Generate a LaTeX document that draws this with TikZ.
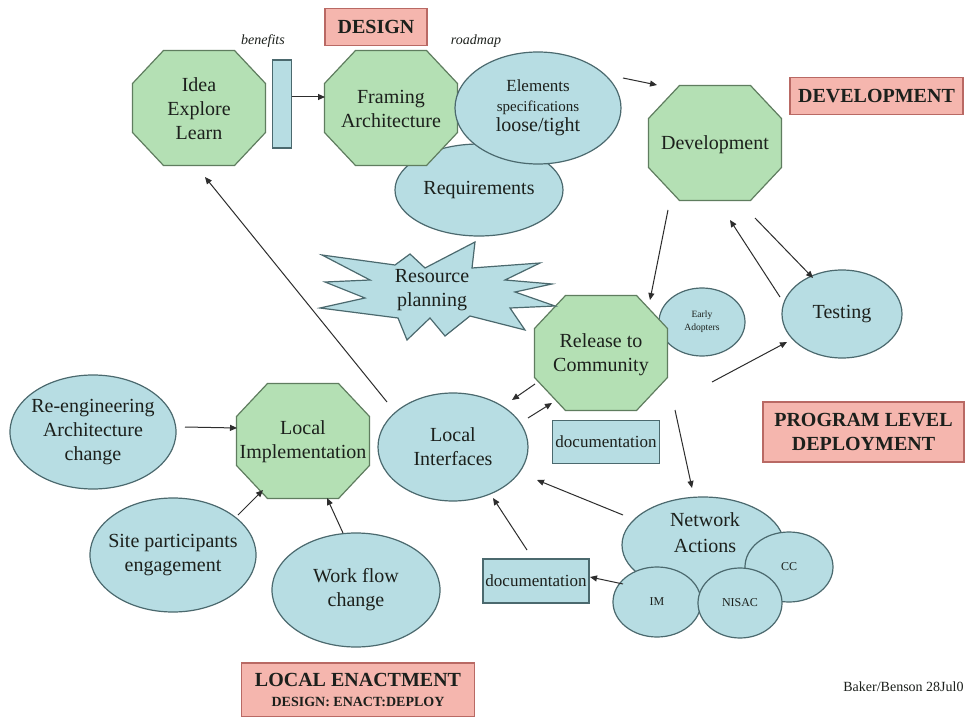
\documentclass[tikz,border=0pt]{standalone}
\usepackage{fontspec}
\setmainfont{Liberation Serif}
\usetikzlibrary{shapes.geometric,arrows.meta,calc}
\definecolor{gfill}{RGB}{180,224,180}
\definecolor{gline}{RGB}{95,125,95}
\definecolor{bfill}{RGB}{183,221,227}
\definecolor{bline}{RGB}{75,105,110}
\definecolor{pfill}{RGB}{245,182,174}
\definecolor{pline}{RGB}{185,105,100}
\definecolor{ink}{RGB}{28,32,28}
\definecolor{arrcol}{RGB}{45,45,45}
\newcommand\octshape[1]{\draw[octline,shift={(#1)}] (-66.5,-24.5) -- (-66.5,24.5) -- (-35.5,57.5) -- (35.5,57.5) -- (66.5,24.5) -- (66.5,-24.5) -- (35.5,-57.5) -- (-35.5,-57.5) -- cycle;}
\begin{document}
\begin{tikzpicture}[x=0.5pt,y=-0.5pt,
 octline/.style={fill=gfill,draw=gline,line width=0.6pt},
 octtxt/.style={inner sep=0pt,minimum width=66.5pt,minimum height=57.5pt,align=center,text=ink,font=\fontsize{10}{12}\selectfont},
 bell/.style={ellipse,fill=bfill,draw=bline,line width=0.6pt,inner sep=-10pt,align=center,text=ink,font=\fontsize{10}{12}\selectfont},
 brect/.style={rectangle,fill=bfill,draw=bline,line width=0.6pt,inner sep=0pt,align=center,text=ink,font=\fontsize{8.5}{10}\selectfont},
 hbox/.style={rectangle,fill=pfill,draw=pline,line width=0.6pt,inner sep=0pt,align=center,text=ink,font=\fontsize{10}{11.7}\selectfont\bfseries},
 arr/.style={draw=arrcol,line width=0.5pt,-{Triangle[length=3.5pt,width=3pt]}},
 note/.style={inner sep=0pt,text=ink,font=\fontsize{7}{8}\selectfont\itshape},
 small/.style={font=\fontsize{6}{7}\selectfont},
]
\path[fill=white,use as bounding box] (0,0) rectangle (965,717);

% DESIGN
\node[hbox,minimum width=51pt,minimum height=18.5pt] (design) at (376,27) {DESIGN};
\node[note] (bentxt) at (263,41) {benefits};
\node[note] (roadtxt) at (476,41) {roadmap};

\octshape{199,108}
\node[octtxt] (idea) at (199,109) {Idea\\Explore\\Learn};
\node[brect,minimum width=9.5pt,minimum height=44pt] (ben) at (282,104) {};

\node[bell,minimum width=84pt,minimum height=46pt] (req) at (479,190) {Requirements};
\octshape{391,108}
\node[octtxt] (fram) at (391,109) {Framing\\Architecture};
\node[bell,minimum width=83pt,minimum height=56pt,font=\fontsize{10}{10}\selectfont] (elem) at (538,108) {{\fontsize{8.5}{10}\selectfont Elements}\\{\fontsize{7.5}{10}\selectfont specifications}\\loose/tight};

% DEVELOPMENT
\octshape{715,143}
\node[octtxt] (dev) at (715,145) {Development};
\node[hbox,minimum width=86.5pt,minimum height=18.5pt] (devbox) at (876.5,96) {DEVELOPMENT};
\node[bell,minimum width=60pt,minimum height=44pt] (test) at (842,314) {Testing};

% Release
\node[bell,minimum width=43pt,minimum height=34pt,font=\fontsize{4.8}{6.5}\selectfont] (early) at (702,322) {Early\\Adopters};
\octshape{601,353}
\node[octtxt] (rel) at (601,355) {Release to\\Community};

% Resource planning
\draw[fill=bfill,draw=bline,line width=0.6pt] (322,255) -- (395,265) -- (410,254) -- (425,268) -- (475,242) -- (472,268) -- (540,263) -- (505,280) -- (552,284) -- (515,292) -- (555,306) -- (510,308) -- (525,330) -- (470,316) -- (445,336) -- (430,318) -- (407,340) -- (398,318) -- (320,308) -- (365,298) -- (325,282) -- (370,280) -- cycle;
\node[inner sep=0pt,align=center,text=ink,font=\fontsize{10}{12}\selectfont] (res) at (432,290) {Resource\\planning};

\node[bell,minimum width=75pt,minimum height=54pt] (li) at (453,447) {Local\\Interfaces};
\node[brect,minimum width=53.5pt,minimum height=21.5pt] (doc1) at (606,442) {documentation};

% Local
\octshape{303,441}
\node[octtxt] (limp) at (303,442) {Local\\Implementation};
\node[bell,minimum width=83pt,minimum height=57pt] (reeng) at (93,432) {Re-engineering\\Architecture\\change};
\node[bell,minimum width=83pt,minimum height=57pt] (site) at (173,555) {Site participants\\engagement};
\node[bell,minimum width=84pt,minimum height=57pt] (work) at (356,590) {Work flow\\change};
\node[hbox,minimum width=116.5pt,minimum height=27pt,font=\fontsize{10}{10}\selectfont\bfseries] (encbox) at (358,690) {LOCAL ENACTMENT\\{\fontsize{7}{8}\selectfont DESIGN: ENACT:DEPLOY}};

% Program level
\node[hbox,minimum width=100.5pt,minimum height=30pt] (progbox) at (863.5,432) {PROGRAM LEVEL\\DEPLOYMENT};
\node[bell,minimum width=81pt,minimum height=48pt] (net) at (703,545) {};
\node[bell,small,minimum width=44pt,minimum height=35pt] (cc) at (789,567) {CC};
\node[bell,small,minimum width=44pt,minimum height=35pt] (im) at (657,602) {IM};
\node[bell,small,minimum width=42pt,minimum height=35pt] (nisac) at (740,603) {NISAC};
\node[inner sep=0pt,align=center,text=ink,font=\fontsize{10}{13}\selectfont] (nettext) at (705,533) {Network\\Actions};
\node[brect,minimum width=53pt,minimum height=22pt] (doc2) at (536,581) {documentation};

\node[anchor=west,inner sep=0pt,text=ink,font=\fontsize{7}{8}\selectfont] (baker) at (843,687) {Baker/Benson 28Jul0};

% connectors
\draw[arr] ($(ben)+(10,-7)$) -- ($(fram)+(-66,-12)$);
\draw[arr] ($(elem)+(85,-30)$) -- ($(dev)+(-58,-60)$);
\draw[arr] ($(dev)+(-47,65)$) -- ($(rel)+(49,-55)$);
\draw[arr] ($(test)+(-62,-17)$) -- ($(dev)+(15,75)$);
\draw[arr] ($(dev)+(40,73)$) -- ($(test)+(-29,-36)$);
\draw[arr] ($(rel)+(111,27)$) -- ($(test)+(-55,28)$);
\draw[arr] ($(rel)+(-66,29)$) -- ($(li)+(59,-47)$);
\draw[arr] ($(li)+(75,-29)$) -- ($(rel)+(-49,48)$);
\draw[arr] ($(li)+(-66,-45)$) -- ($(idea)+(6,68)$);
\draw[arr] ($(reeng)+(92,-5)$) -- ($(limp)+(-66,-14)$);
\draw[arr] ($(site)+(65,-40)$) -- ($(limp)+(-40,48)$);
\draw[arr] ($(work)+(-13,-57)$) -- ($(limp)+(24,56)$);
\draw[arr] ($(rel)+(74,55)$) -- ($(net)+(-11,-57)$);
\draw[arr] ($(net)+(-80,-30)$) -- ($(li)+(84,33)$);
\draw[arr] ($(doc2)+(-9,-31)$) -- ($(li)+(40,51)$);
\draw[arr] ($(im)+(-34,-18)$) -- ($(doc2)+(54,-4)$);
\end{tikzpicture}
\end{document}
